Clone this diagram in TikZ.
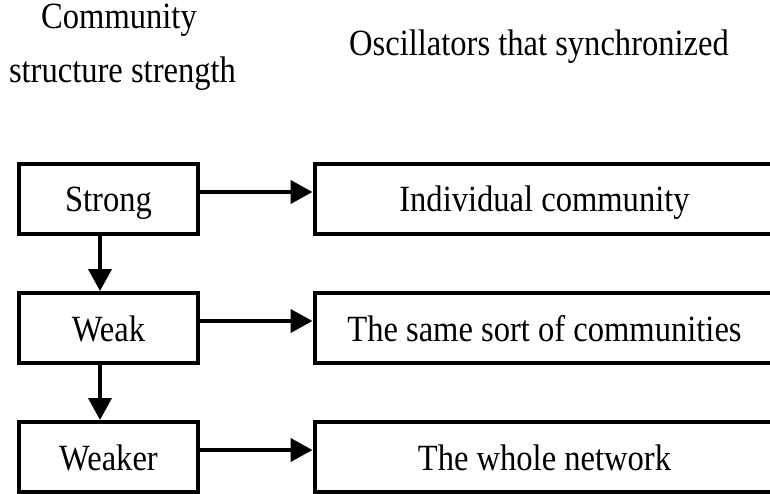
\documentclass[tikz,border=0pt]{standalone}
\usepackage{fontspec}
\setmainfont{Liberation Serif}[FakeStretch=0.88]
\usetikzlibrary{arrows.meta}
\begin{document}
\begin{tikzpicture}[x=1pt,y=-1pt,
  every node/.style={font=\fontsize{37}{44}\selectfont},
  lbox/.style={draw,line width=4pt,minimum width=179pt,minimum height=70pt,inner sep=0pt,text height=26pt,text depth=0pt},
  rbox/.style={draw,line width=4pt,minimum width=460pt,minimum height=70pt,inner sep=0pt,text height=26pt,text depth=0pt},
  arr/.style={line width=4pt,-{Triangle[length=22pt,width=23pt]}},
  hdr/.style={anchor=base,inner sep=0pt}]
\useasboundingbox (0,0) rectangle (770,494);
\node[hdr] (h1) at (119,29) {Community};
\node[hdr] (h2) at (122.5,83) {structure strength};
\node[hdr] (h3) at (539,56) {Oscillators that synchronized};
\node[lbox] (s) at (108.5,199) {Strong};
\node[lbox] (w) at (108.5,328) {Weak};
\node[lbox] (wr) at (108.5,457) {Weaker};
\node[rbox] (ic) at (544.5,199) {Individual community};
\node[rbox] (ss) at (544.5,328) {The same sort of communities};
\node[rbox] (wn) at (544.5,457) {The whole network};
\draw[arr] ([yshift=7pt]s.east) -- ([yshift=7pt]ic.west);
\draw[arr] ([yshift=7pt]w.east) -- ([yshift=7pt]ss.west);
\draw[arr] ([yshift=7pt]wr.east) -- ([yshift=7pt]wn.west);
\draw[arr] ([xshift=-8.5pt]s.south) -- ([xshift=-8.5pt]w.north);
\draw[arr] ([xshift=-8.5pt]w.south) -- ([xshift=-8.5pt]wr.north);
\end{tikzpicture}
\end{document}
